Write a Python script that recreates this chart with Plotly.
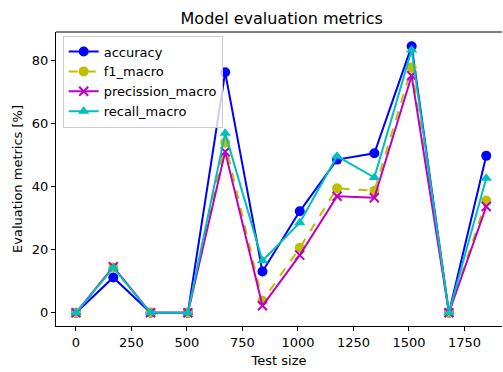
import plotly.graph_objects as go

# Test sizes and evaluation metrics (percent)
test_size = [0, 168, 336, 504, 672, 840, 1008, 1176, 1344, 1512, 1680, 1848]
accuracy = [0, 11.2, 0, 0, 76.3, 13.1, 32.2, 48.6, 50.6, 84.6, 0, 49.8]
f1_macro = [0, 14.4, 0, 0, 54.0, 3.8, 20.6, 39.5, 38.7, 77.8, 0, 35.6]
precission_macro = [0, 14.6, 0, 0, 51.1, 2.2, 18.3, 37.0, 36.5, 75.2, 0, 33.7]
recall_macro = [0, 14.3, 0, 0, 57.0, 16.5, 28.6, 49.7, 42.9, 83.4, 0, 42.7]

FONT = "DejaVu Sans"
FS = 13

series = [
    ("accuracy", accuracy, "#0000ff", "solid", "circle", 10, None),
    ("f1_macro", f1_macro, "#bfbf00", "dash", "circle", 10, None),
    ("precission_macro", precission_macro, "#bf00bf", "solid", "x-thin", 9, 2),
    ("recall_macro", recall_macro, "#00bfbf", "solid", "triangle-up", 10, None),
]

fig = go.Figure()
for name, vals, color, dash, symbol, msize, mlw in series:
    marker = dict(symbol=symbol, size=msize, color=color)
    if mlw:
        marker["line"] = dict(color=color, width=mlw)
    else:
        marker["line"] = dict(width=0)
    fig.add_trace(go.Scatter(
        x=test_size, y=vals, name=name, mode="lines+markers",
        line=dict(color=color, width=2, dash=dash),
        marker=marker,
    ))

axis_common = dict(
    showgrid=False, zeroline=False, showline=True, linecolor="black",
    linewidth=1, ticks="outside", ticklen=4, tickcolor="black",
    tickfont=dict(family=FONT, size=FS, color="black"),
)

fig.update_layout(
    width=503, height=372,
    margin=dict(l=56, r=1, t=32, b=46),
    paper_bgcolor="white", plot_bgcolor="white",
    font=dict(family=FONT, size=FS, color="black"),
    title=dict(text="Model evaluation metrics", x=0.56, xanchor="center",
               y=0.95, yanchor="middle",
               font=dict(family=FONT, size=16, color="black")),
    xaxis=dict(range=[-90, 1919], tickvals=[0, 250, 500, 750, 1000, 1250, 1500, 1750],
               mirror=False,
               title=dict(text="Test size", standoff=7,
                          font=dict(family=FONT, size=FS, color="black")),
               **axis_common),
    yaxis=dict(range=[-4.2, 89.1], tickvals=[0, 20, 40, 60, 80],
               title=dict(text="Evaluation metrics [%]", standoff=6,
                          font=dict(family=FONT, size=FS, color="black")),
               **axis_common),
    legend=dict(x=0.015, y=0.988, xanchor="left", yanchor="top",
                bgcolor="rgba(255,255,255,0.8)", bordercolor="#cccccc",
                borderwidth=1, tracegroupgap=0,
                font=dict(family=FONT, size=FS, color="black")),
    showlegend=True,
)

# top spine
fig.add_shape(type="line", xref="paper", yref="paper", x0=0, x1=1, y0=1, y1=1,
              line=dict(color="black", width=1))

fig.write_html("out.html")
